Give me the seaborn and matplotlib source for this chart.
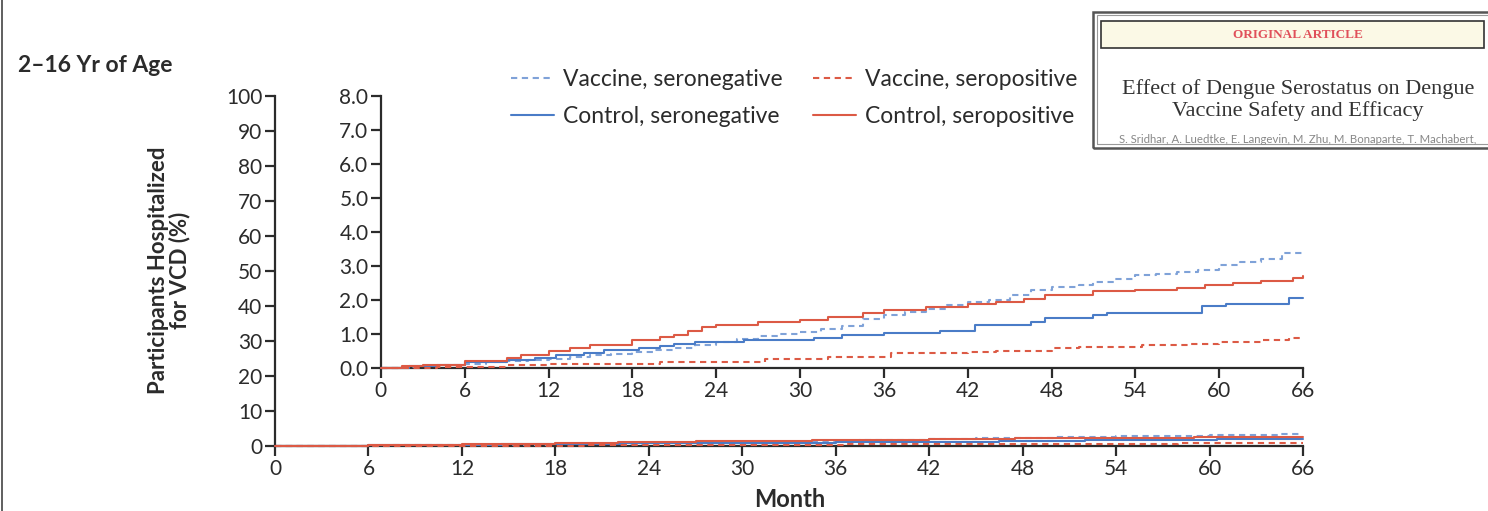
import numpy as np
import pandas as pd
import matplotlib
matplotlib.use("Agg")
import matplotlib.pyplot as plt
import seaborn as sns
from matplotlib.patches import Rectangle
from matplotlib.lines import Line2D

# cumulative % hospitalized for VCD (step points)
vacc_neg_month = [0, 1.5, 3, 4.5, 6, 7.5, 9, 10.5, 12, 13.5, 15, 16.5, 18, 19.5, 21, 22.5, 24, 25.5, 27, 28.5,
                  30, 31.5, 33, 34.5, 36, 37.5, 39, 40.5, 42, 43.5, 45, 46.5, 48, 50, 51, 52.5, 54, 55.5, 57,
                  58.5, 60, 61.5, 63, 64.5, 66]
vacc_neg_pct = [0, 0.03, 0.06, 0.09, 0.13, 0.17, 0.2, 0.23, 0.27, 0.32, 0.37, 0.42, 0.47, 0.53, 0.6, 0.68, 0.76,
                0.86, 0.95, 1.0, 1.05, 1.15, 1.25, 1.45, 1.56, 1.65, 1.75, 1.85, 1.95, 2.0, 2.15, 2.3, 2.37,
                2.45, 2.54, 2.63, 2.73, 2.78, 2.83, 2.88, 3.03, 3.12, 3.22, 3.37, 3.47]

ctrl_neg_month = [0, 2, 4, 6, 9, 11, 12.5, 14.5, 16, 18.5, 20, 21, 22.5, 26, 31, 33, 36, 40, 42.5, 46.5, 47.5,
                  51, 52, 58.8, 60.5, 65, 66]
ctrl_neg_pct = [0, 0.05, 0.1, 0.18, 0.25, 0.3, 0.38, 0.45, 0.52, 0.58, 0.64, 0.71, 0.76, 0.83, 0.88, 0.97,
                1.02, 1.09, 1.27, 1.36, 1.46, 1.56, 1.61, 1.83, 1.88, 2.05, 2.05]

vacc_pos_month = [0, 4, 8, 9, 12, 20, 27.5, 32, 36.5, 42, 44, 48, 50, 54.5, 58, 60, 63, 65, 66]
vacc_pos_pct = [0, 0.02, 0.04, 0.08, 0.13, 0.18, 0.27, 0.33, 0.43, 0.48, 0.5, 0.58, 0.62, 0.69, 0.72, 0.77,
                0.82, 0.87, 0.87]

ctrl_pos_month = [0, 1.5, 3, 6, 9, 10, 12, 13.5, 15, 18, 20, 21, 22, 23, 24, 27, 30, 32, 34.5, 36, 39, 42, 44,
                  46, 47.5, 51, 54, 57, 59, 61, 63, 65.3, 66]
ctrl_pos_pct = [0, 0.05, 0.1, 0.2, 0.3, 0.38, 0.49, 0.58, 0.67, 0.81, 0.9, 0.96, 1.08, 1.22, 1.28, 1.35, 1.42,
                1.5, 1.62, 1.72, 1.8, 1.88, 1.95, 2.03, 2.15, 2.26, 2.3, 2.34, 2.43, 2.5, 2.55, 2.66, 2.7]

month_ticks = list(range(0, 67, 6))
outer_yticks = list(range(0, 101, 10))
inset_yticks = [0, 1, 2, 3, 4, 5, 6, 7, 8]

series = [
    ("Vaccine, seronegative", vacc_neg_month, vacc_neg_pct, "#7fa2d8", (3, 2.2)),
    ("Control, seronegative", ctrl_neg_month, ctrl_neg_pct, "#4a7cc7", None),
    ("Vaccine, seropositive", vacc_pos_month, vacc_pos_pct, "#dc5a45", (3, 2.2)),
    ("Control, seropositive", ctrl_pos_month, ctrl_pos_pct, "#dc5a45", None),
]

sns.set_style("ticks")
plt.rcParams["font.family"] = ["Lato", "DejaVu Sans"]
ink = "#2b2b2b"

fig = plt.figure(figsize=(14.88, 5.11), dpi=100)

def style_axes(ax, ymax, yticks, ylabels):
    ax.set_xlim(0, 66)
    ax.set_ylim(0, ymax)
    ax.set_xticks(month_ticks)
    ax.set_yticks(yticks)
    ax.set_yticklabels(ylabels)
    for s in ["top", "right"]:
        ax.spines[s].set_visible(False)
    for s in ["left", "bottom"]:
        ax.spines[s].set_color(ink)
        ax.spines[s].set_linewidth(1.6)
    ax.tick_params(axis="both", direction="out", length=7, width=1.6, color=ink,
                   labelsize=15, labelcolor=ink, pad=2)
    ax.set_xlabel("")
    ax.set_ylabel("")

def draw_lines(ax, lw):
    for name, m, v, c, dash in series:
        df = pd.DataFrame({"month": m, "pct": v})
        kw = dict(dashes=dash) if dash else {}
        sns.lineplot(data=df, x="month", y="pct", ax=ax, color=c, lw=lw, zorder=3, clip_on=False,
                     drawstyle="steps-post", estimator=None, label=name, **kw)

# outer axes (0-100%)
ax = fig.add_axes([0.1848, 0.1272, 0.6909, 0.6849])
draw_lines(ax, 1.5)
style_axes(ax, 100, outer_yticks, [str(t) for t in outer_yticks])
ax.get_legend().remove()

# inset (0-8%)
ins = fig.add_axes([0.2560, 0.2798, 0.6197, 0.5323])
ins.patch.set_alpha(0)
draw_lines(ins, 1.5)
style_axes(ins, 8, inset_yticks, [f"{t:.1f}" for t in inset_yticks])
handles, labels = ins.get_legend_handles_labels()
ins.get_legend().remove()

fig.legend(handles, labels, ncol=2, loc="upper left", bbox_to_anchor=(0.3298, 0.905),
           frameon=False, fontsize=16.5, handlelength=1.85, handletextpad=0.4,
           columnspacing=1.35, labelspacing=0.68, labelcolor=ink)

fig.text(0.012, 1 - 65 / 511, "2\u201316 Yr of Age", fontsize=16.5, fontweight="bold",
         color=ink, va="center", ha="left")
fig.text(0.1135, 1 - 270 / 511, "Participants Hospitalized\nfor VCD (%)", rotation=90,
         fontsize=16, fontweight="bold", color=ink, ha="center", va="center",
         linespacing=1.0)
fig.text(0.5306, 1 - 499 / 511, "Month", fontsize=17, fontweight="bold", color=ink,
         ha="center", va="center")

# left page border
fig.add_artist(Line2D([2 / 1488, 2 / 1488], [0, 1], color="#444444", lw=1.2,
                      transform=fig.transFigure))

# article header box (top right)
px = lambda x: x / 1488
py = lambda y: 1 - y / 511
fig.add_artist(Rectangle((px(1093), py(148)), px(1500) - px(1093), py(12) - py(148),
                         transform=fig.transFigure, fill=False, ec="#555555", lw=1.8))
fig.add_artist(Rectangle((px(1096.5), py(144.5)), px(1500) - px(1096.5), py(15.5) - py(144.5),
                         transform=fig.transFigure, fill=False, ec="#999999", lw=0.8))
fig.add_artist(Rectangle((px(1101), py(48)), px(1484) - px(1101), py(21) - py(48),
                         transform=fig.transFigure, fc="#fbf9e6", ec="#333333", lw=1.2))
fig.text(px(1298), py(35), "ORIGINAL ARTICLE", fontsize=9.5, color="#e0505a",
         family="Liberation Serif", fontweight="bold", ha="center", va="center")
fig.text(px(1298), py(100), "Effect of Dengue Serostatus on Dengue\nVaccine Safety and Efficacy",
         fontsize=16, color="#333333", family="Liberation Serif", ha="center", va="center",
         linespacing=1.15)
fig.text(px(1298), py(139), "S. Sridhar, A. Luedtke, E. Langevin, M. Zhu, M. Bonaparte, T. Machabert,",
         fontsize=8.2, color="#888888", ha="center", va="center")

fig.savefig("out.png", dpi=100)
